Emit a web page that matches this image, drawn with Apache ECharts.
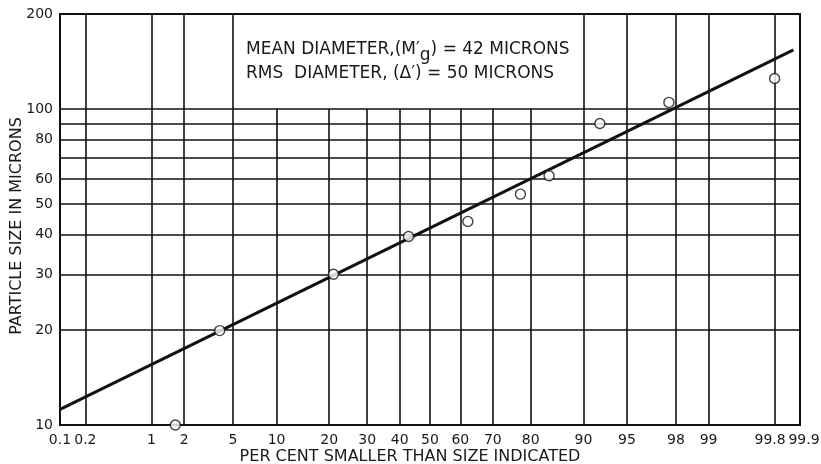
<!DOCTYPE html>
<html><head><meta charset="utf-8">
<script src="https://cdn.jsdelivr.net/npm/echarts@6/dist/echarts.min.js"></script>
<style>html,body{margin:0;padding:0;background:#fff}#c{width:821px;height:464px}</style>
</head><body><div id="c"></div>
<script>
// ---- data ----
const percentTicks = [0.1,0.2,1,2,5,10,20,30,40,50,60,70,80,90,95,98,99,99.8,99.9];
const percentLabels = ['0.1','0.2','1','2','5','10','20','30','40','50','60','70','80','90','95','98','99','99.8','99.9'];
const fullGridPercents = [0.2,1,2,5,90,95,98,99,99.8];
const shortGridPercents = [10,20,30,40,50,60,70,80];
const sizeGridLines = [20,30,40,50,60,70,80,90,100];
const sizeTicks = [10,20,30,40,50,60,80,100,200];
const pointPercent = [1.67,3.95,21.0,42.9,62.4,77.5,84.0,92.2,97.7,99.8];
const pointSize = [10,19.9,30,39.5,44.1,53.8,61.5,90,105,125];
const fitPercent = [0.1, 99.88];
const fitSize = [11.2, 154];
const sizeMin = 10, sizeMax = 200;

// inverse normal CDF (probability scale)
function probit(p){
 const a=[-3.969683028665376e+01,2.209460984245205e+02,-2.759285104469687e+02,1.383577518672690e+02,-3.066479806614716e+01,2.506628277459239e+00];
 const b=[-5.447609879822406e+01,1.615858368580409e+02,-1.556989798598866e+02,6.680131188771972e+01,-1.328068155288572e+01];
 const c=[-7.784894002430293e-03,-3.223964580411365e-01,-2.400758277161838e+00,-2.549732539343734e+00,4.374664141464968e+00,2.938163982698783e+00];
 const d=[7.784695709041462e-03,3.224671290700398e-01,2.445134137142996e+00,3.754408661907416e+00];
 const pl=0.02425, ph=1-pl; let q,r;
 if(p<pl){q=Math.sqrt(-2*Math.log(p));return (((((c[0]*q+c[1])*q+c[2])*q+c[3])*q+c[4])*q+c[5])/((((d[0]*q+d[1])*q+d[2])*q+d[3])*q+1);}
 if(p<=ph){q=p-0.5;r=q*q;return (((((a[0]*r+a[1])*r+a[2])*r+a[3])*r+a[4])*r+a[5])*q/(((((b[0]*r+b[1])*r+b[2])*r+b[3])*r+b[4])*r+1);}
 q=Math.sqrt(-2*Math.log(1-p));return -(((((c[0]*q+c[1])*q+c[2])*q+c[3])*q+c[4])*q+c[5])/((((d[0]*q+d[1])*q+d[2])*q+d[3])*q+1);
}
const zOf = pct => probit(pct/100);
const tickZ = percentTicks.map(zOf);
const zMin = tickZ[0], zMax = tickZ[tickZ.length-1];
const labelIndex = (v)=>{let bi=0,bd=1e9;tickZ.forEach((t,i)=>{const dd=Math.abs(t-v);if(dd<bd){bd=dd;bi=i;}});return bi;};

const gridLines = [];
fullGridPercents.forEach(p => gridLines.push([{coord:[zOf(p), sizeMin]},{coord:[zOf(p), sizeMax]}]));
shortGridPercents.forEach(p => gridLines.push([{coord:[zOf(p), sizeMin]},{coord:[zOf(p), 100]}]));
sizeGridLines.forEach(s => gridLines.push([{coord:[zMin, s]},{coord:[zMax, s]}]));

const FONT = 'DejaVu Sans';
const INK = '#1a1a1a';
const baseX = {type:'value', min:zMin, max:zMax, position:'bottom',
  axisLine:{show:false}, axisTick:{show:false}, splitLine:{show:false}};
const chart = echarts.init(document.getElementById('c'), null, {renderer:'canvas'});
chart.setOption({
  animation:false,
  backgroundColor:'#fff',
  grid:{left:60, right:21, top:14, bottom:39, containLabel:false, outerBoundsMode:'none',
        show:true, borderColor:'#111', borderWidth:2, backgroundColor:'transparent'},
  xAxis:[
    Object.assign({}, baseX, {
      axisLabel:{customValues:tickZ.slice(0,-1), margin:8, color:INK, fontFamily:FONT, fontSize:14,
        hideOverlap:false, showMinLabel:true,
        formatter:(v)=>{const i=labelIndex(v); return i===tickZ.length-2 ? '{l|'+percentLabels[i]+'}' : percentLabels[i];},
        rich:{l:{fontFamily:FONT, fontSize:14, color:INK, padding:[0,9,0,0]}}},
      name:'PER CENT SMALLER THAN SIZE INDICATED', nameLocation:'middle', nameGap:24, nameMoveOverlap:false,
      nameTextStyle:{fontFamily:FONT, fontSize:16, color:INK, padding:[0,40,0,0]}}),
    Object.assign({}, baseX, {
      axisLabel:{customValues:tickZ.slice(-1), margin:8, color:INK, fontFamily:FONT, fontSize:14,
        hideOverlap:false, showMaxLabel:true,
        formatter:(v)=>'{r|'+percentLabels[labelIndex(v)]+'}', rich:{r:{fontFamily:FONT, fontSize:14, color:INK, padding:[0,0,0,8]}}}})
  ],
  yAxis:{
    type:'log', logBase:10, min:sizeMin, max:sizeMax,
    axisLine:{show:false}, axisTick:{show:false}, splitLine:{show:false}, minorTick:{show:false}, minorSplitLine:{show:false},
    axisLabel:{customValues:sizeTicks, margin:7, color:INK, fontFamily:FONT, fontSize:14, hideOverlap:false,
      formatter:(v)=>String(Math.round(v))},
    name:'PARTICLE SIZE IN MICRONS', nameLocation:'middle', nameGap:35, nameMoveOverlap:false,
    nameTextStyle:{fontFamily:FONT, fontSize:16, color:INK, padding:[0,13,0,0]}
  },
  graphic:[
    {type:'text', left:246, top:41, z:10, style:{
      text:'{a|MEAN DIAMETER,(M′}{g|g}{a|) = 42 MICRONS}',
      rich:{a:{fontFamily:FONT, fontSize:17, fill:INK, lineHeight:21, verticalAlign:'top'},
            g:{fontFamily:FONT, fontSize:17, fill:INK, lineHeight:23, verticalAlign:'bottom'}}}},
    {type:'text', left:246, top:65, z:10, style:{
      text:'RMS  DIAMETER, (Δ′) = 50 MICRONS', fontFamily:FONT, fontSize:17, fill:INK}}
  ],
  series:[
    {type:'line', xAxisIndex:0, data:fitPercent.map((p,i)=>[zOf(p), fitSize[i]]), showSymbol:false, symbol:'none',
     lineStyle:{color:'#111', width:3}, z:3, silent:true,
     markLine:{symbol:'none', silent:true, label:{show:false}, animation:false,
       lineStyle:{color:'#111', width:1.6, type:'solid'}, data:gridLines}},
    {type:'scatter', xAxisIndex:0, data:pointPercent.map((p,i)=>[zOf(p), pointSize[i]]), symbol:'circle', symbolSize:10,
     itemStyle:{color:'#fff', borderColor:'#111', borderWidth:1.4}, z:5, silent:true}
  ]
});
</script></body></html>
